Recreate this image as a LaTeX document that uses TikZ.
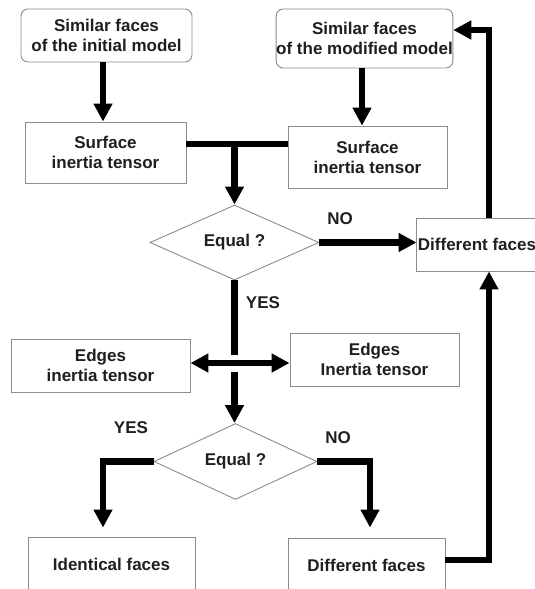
\documentclass[tikz,border=0pt]{standalone}
\usepackage{fontspec}
\setmainfont{Liberation Sans}
\usetikzlibrary{arrows.meta,shapes.geometric}
\begin{document}
\begin{tikzpicture}[x=1pt,y=-1pt,
  every node/.style={font=\fontsize{17}{20}\selectfont\bfseries, text=black!88},
  flowbox/.style 2 args={draw=black!45, line width=0.9pt, fill=white,
    minimum width=#1, minimum height=#2, inner sep=0pt, align=center},
  roundbox/.style 2 args={flowbox={#1}{#2}, rounded corners=7pt},
  decision/.style 2 args={draw=black!45, line width=0.9pt, fill=white, diamond,
    aspect=2.25, minimum width=#1, minimum height=#2, inner sep=0pt},
  link/.style={line width=6.5pt, draw=black},
  arrowlink/.style={link, -{Triangle[length=18pt,width=18pt]}},
  label/.style={inner sep=0pt}]
\useasboundingbox (0,0) rectangle (535,589);
\clip (0,0) rectangle (535,589);

% boxes
\node[roundbox={171pt}{53pt}] (A) at (106.5,35.5) {Similar faces\\of the initial model};
\node[roundbox={175pt}{59pt}] (C) at (364.5,38.5) {Similar faces\\of the modified model};
\node[flowbox={161pt}{61pt}] (B) at (105.5,152.5) {Surface\\inertia tensor};
\node[flowbox={159pt}{62pt}] (D) at (367.5,157) {Surface\\inertia tensor};
\node[decision={169pt}{75pt}] (Q1) at (234.5,242.5) {Equal ?};
\node[flowbox={122pt}{53pt}] (E) at (477,244.5) {Different faces};
\node[flowbox={179pt}{53pt}] (F) at (100.5,365.5) {Edges\\inertia tensor};
\node[flowbox={169pt}{53pt}] (G) at (374.5,359.5) {Edges\\Inertia tensor};
\node[decision={163pt}{76pt}] (Q2) at (235.5,461.5) {Equal ?};
\node[flowbox={167pt}{54pt}] (H) at (111.5,564) {Identical faces};
\node[flowbox={157pt}{54pt}] (I) at (366.5,565) {Different faces};

% branch labels
\node[label] (no1) at (340,219) {NO};
\node[label] (yes1) at (263,303) {YES};
\node[label] (yes2) at (131,428) {YES};
\node[label] (no2) at (338,438) {NO};

% helper points
\coordinate (J) at (234.5,144);
\coordinate (hx) at (0,363);
\coordinate (cd) at ([xshift=-2.5pt]C.south);

% connectors
\draw[arrowlink] ([xshift=-3.5pt]A.south) -- ([xshift=-2.5pt]B.north);
\draw[arrowlink] (cd) -- (cd |- D.north);
\draw[link] (B.east |- J) -- (D.west |- J);
\draw[arrowlink] (J) -- (Q1.north);
\draw[arrowlink, shorten >=-1pt] (Q1.east) -- (Q1.east -| E.west);
\draw[arrowlink] (Q1.south) -- (Q1.south |- Q2.north);
\draw[link, {Triangle[length=18pt,width=18pt]}-{Triangle[length=18pt,width=18pt]},
  preaction={draw=white, line width=17pt, -, shorten <=35pt, shorten >=35pt}]
  (F.east |- hx) -- (G.west |- hx);
\draw[arrowlink, shorten >=9pt] (Q2.west) -| ([xshift=-8.5pt]H.north);
\draw[arrowlink, shorten >=10pt] (Q2.east) -| ([xshift=3.5pt]I.north);
\draw[arrowlink] ([yshift=5pt]I.east) -| ([xshift=12pt]E.south);
\draw[arrowlink] ([xshift=12pt]E.north) |- ([yshift=8.5pt]C.east);
\end{tikzpicture}
\end{document}
